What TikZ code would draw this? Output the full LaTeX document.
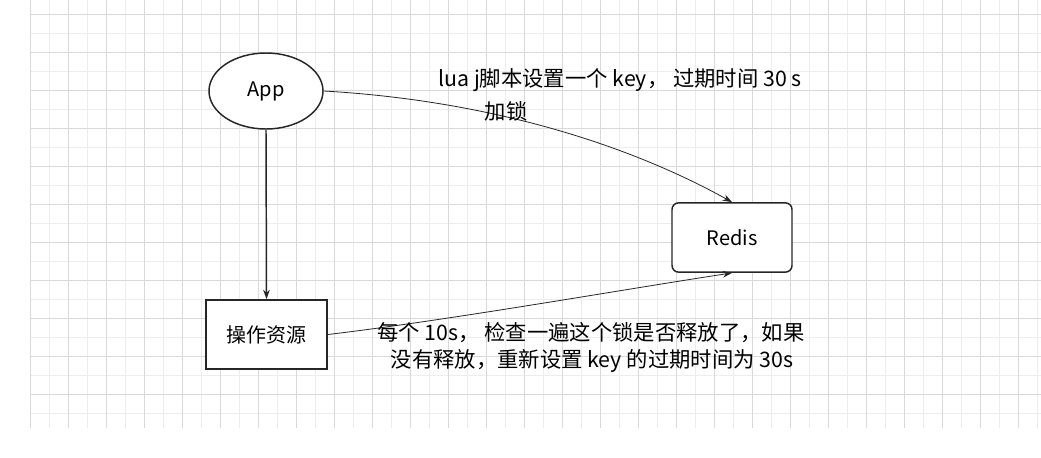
\documentclass[tikz,border=0pt]{standalone}
\usepackage{fontspec}
\setmainfont{Noto Sans CJK SC}
\usetikzlibrary{arrows.meta,shapes.geometric}
\begin{document}
\begin{tikzpicture}[x=0.75pt,y=-0.75pt,
  lbl/.style={font=\fontsize{16}{20}\selectfont,align=center,inner sep=0},
  shp/.style={draw=black!85,line width=1.1pt,fill=white,font=\fontsize{15}{18}\selectfont,inner sep=0},
  arr/.style={-{Stealth[length=7pt,width=5pt]},draw=black!85}]
\useasboundingbox (0,0) rectangle (1041,457);
\fill[white] (0,0) rectangle (1041,457);
\foreach \x in {30,49,...,1041} \draw[black!7,line width=0.75pt] (\x,0) -- (\x,428);
\foreach \y in {14,33,...,428} \draw[black!7,line width=0.75pt] (30,\y) -- (1041,\y);
\foreach \x in {30,68,...,1041} \draw[black!15,line width=0.75pt] (\x,0) -- (\x,428);
\foreach \y in {14,52,...,428} \draw[black!15,line width=0.75pt] (30,\y) -- (1041,\y);
\node[shp,ellipse,minimum width=85.5pt,minimum height=57pt] (app) at (266,91) {App};
\node[shp,rectangle,rounded corners=5pt,minimum width=90pt,minimum height=52pt] (redis) at (732,237.5) {Redis};
\node[shp,rectangle,minimum width=91pt,minimum height=52pt] (op) at (266.5,334.5) {操作资源};
\draw[arr,line width=1.1pt] (app.south) -- (op.north);
\draw[arr,line width=0.6pt] (app.east) .. controls (480,100) and (620,140) .. (redis.north);
\draw[arr,line width=0.6pt] (op.east) .. controls (450,320) and (620,290) .. (redis.south);
\node[lbl] (t1) at (620,80) {lua j脚本设置一个 key， 过期时间 30 s};
\node[lbl] (t2) at (506,111) {加锁};
\node[lbl] (t3) at (591,333) {每个 10s， 检查一遍这个锁是否释放了，如果};
\node[lbl] (t4) at (592,361) {没有释放，重新设置 key 的过期时间为 30s};
\end{tikzpicture}
\end{document}
